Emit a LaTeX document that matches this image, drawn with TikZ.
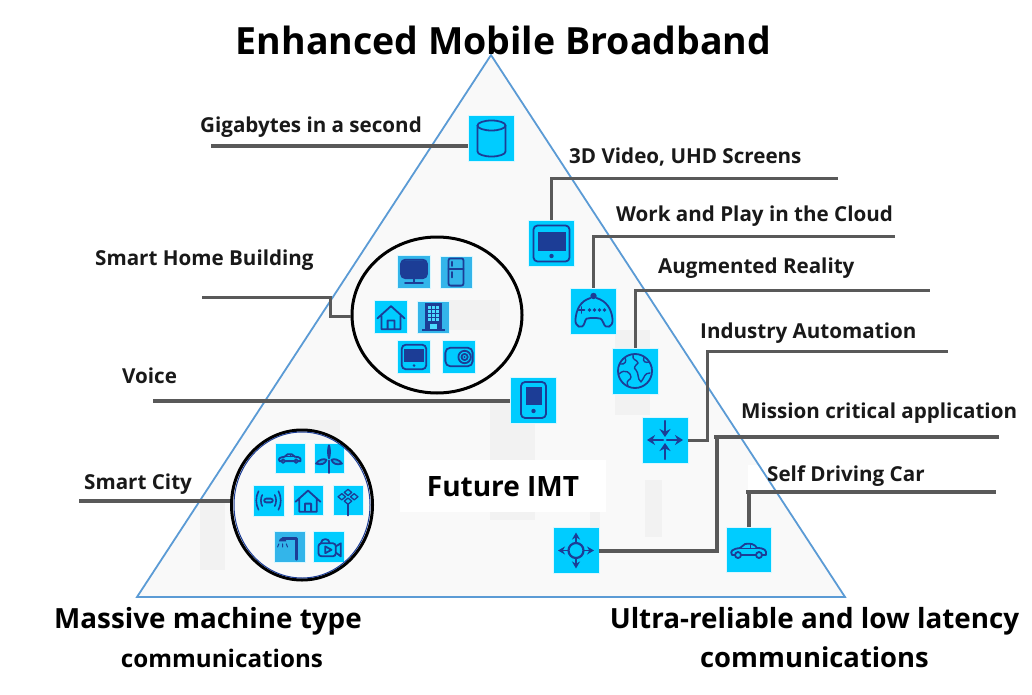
\documentclass[tikz,border=0pt]{standalone}
\usepackage{fontspec}
\usetikzlibrary{arrows.meta,shapes.geometric}
\setmainfont{Open Sans}
\definecolor{tilec}{HTML}{00CCFF}
\definecolor{tiled}{HTML}{33B5EA}
\definecolor{icon}{HTML}{1C3D96}
\definecolor{wire}{HTML}{595959}
\definecolor{edge}{HTML}{5B9BD5}
\definecolor{tribg}{HTML}{F9F9F9}
\definecolor{block}{HTML}{F2F2F2}
\tikzset{
  tile/.style={fill=tilec,draw=white!85!tilec,line width=.6pt,inner sep=0pt,minimum width=#1,minimum height=#1},
  tiledark/.style={tile=#1,fill=tiled},
  wireline/.style={draw=wire,line width=3.8pt},
  labeltext/.style={font=\bfseries\fontsize{20.6}{24}\selectfont,anchor=base west,inner sep=0pt,text=black!90},
  heading/.style={font=\bfseries\fontsize{27.8}{32}\selectfont,inner sep=0pt,anchor=base,text=black},
  ring/.style={draw=black,line width=3pt,fill=none},
  ic/.style={draw=icon,line width=1.8pt,line join=round,line cap=round,fill=none},
  icf/.style={fill=icon,draw=none},
  arr/.style={ic,-{Stealth[length=7pt,width=8pt]},line cap=butt},
  icdb/.pic={\draw[ic] (-14,-13) -- (-14,13) arc[start angle=180,end angle=0,x radius=14,y radius=5] -- (14,-13);
    \draw[ic] (0,-13) ellipse[x radius=14,y radius=5];},
  ictablet/.pic={\draw[ic,rounded corners=4pt] (-18,-18) rectangle (18,18);
    \fill[icf] (-14,-12) rectangle (14,7); \fill[icf] (0,12.5) circle(2.2);},
  icphone/.pic={\draw[ic,rounded corners=4pt] (-12.5,-18) rectangle (12.5,18);
    \fill[icf] (-8,-13) rectangle (8,5); \fill[icf] (0,11) circle(2.2);},
  icgame/.pic={\draw[ic] (-3,-13) .. controls (-13,-10) and (-17,-2) .. (-18,8) .. controls (-19,16) and (-11,19) .. (-9,12) .. controls (-8,7) and (-6,7) .. (-3,7) -- (3,7) .. controls (6,7) and (8,7) .. (10,12) .. controls (12,19) and (20,16) .. (19,8) .. controls (18,-2) and (13,-10) .. (3,-13);
    \fill[icf] (0,-15) circle(3.2);
    \draw[ic] (-15,-1) -- (-9,-1) (-12,-4) -- (-12,2);
    \foreach \q in {-5,0,5,10}{\fill[icf] (\q+1,-1) circle(1.8);}},
  icglobe/.pic={\draw[ic] (0,0) circle(17);
    \draw[ic,line width=1.4pt] (-15,-7) .. controls (-10,-6) and (-8,-10) .. (-10,-13) (-16,3) .. controls (-10,-3) and (-4,2) .. (-4,6) .. controls (-4,10) and (-10,8) .. (-7,15)
      (-2,-16) .. controls (-3,-10) and (2,-12) .. (3,-8) .. controls (0,-5) and (-2,-3) .. (1,-1) .. controls (4,2) and (2,8) .. (6,11) .. controls (10,6) and (9,2) .. (15,2)
      (9,-14) .. controls (7,-9) and (11,-8) .. (14,-9);},
  icin/.pic={\draw[ic,line width=2.2pt,-{Stealth[length=8pt,width=10pt]}] (-2,0) -- (-18,0); \draw[ic,line width=2.2pt,-{Stealth[length=8pt,width=10pt]}] (2,0) -- (18,0);
    \draw[ic,line width=2.2pt,-{Stealth[length=8pt,width=11pt]}] (0,-19) -- (0,-3);
    \draw[ic,line width=2.2pt,-{Stealth[length=8pt,width=11pt]}] (0,19) -- (0,3);},
  ichub/.pic={\draw[ic,line width=2.2pt] (0,0) circle(7.5);
    \draw[arr] (7.5,0) -- (18,0); \draw[arr] (-7.5,0) -- (-18,0);
    \draw[arr] (0,7.5) -- (0,18); \draw[arr] (0,-7.5) -- (0,-18);},
  iccar/.pic={\draw[ic] (-17,5) .. controls (-19,1) and (-17,-1) .. (-9,-2) -- (-4,-6) .. controls (1,-7) and (6,-6) .. (8,-2) .. controls (15,-2) and (18,0) .. (17,5) -- (-17,5);
    \draw[ic,fill=tilec] (-11,5) circle(3) (10,5) circle(3);
    \draw[ic,line width=.9pt] (-9,-2) -- (8,-2) (1,-6) -- (1,-2);},
  ictv/.pic={\fill[icf,rounded corners=3pt] (-18,-17) rectangle (18,8);
    \draw[ic,rounded corners=4pt] (-19,-18) rectangle (19,9);
    \draw[ic,line width=2pt] (0,9) -- (0,15) (-13,16) -- (13,16);},
  icfridge/.pic={\draw[ic,rounded corners=2pt] (-11,-20) rectangle (11,20); \draw[ic] (-11,-5) -- (11,-5) (-6,-15) -- (-6,-9) (-6,0) -- (-6,8);},
  ichome/.pic={\draw[ic] (-20,2) -- (0,-16) -- (20,2) (-14,-2) -- (-14,18) -- (14,18) -- (14,-2) (-5,18) -- (-5,5) -- (5,5) -- (5,18);},
  icbuilding/.pic={\fill[icf] (-12,-20) rectangle (12,18); \fill[icf] (-17,17) rectangle (17,21);
    \foreach \a in {-8,-2,4}{\foreach \b in {-16,-10,-4,2}{\fill[white!30!tilec] (\a,\b) rectangle (\a+4,\b+4);}}
    \fill[white!30!tilec] (-5,11) rectangle (5,18);},
  icsafe/.pic={\draw[ic,rounded corners=5pt] (-22,-15) rectangle (22,15);
    \draw[ic] (9,0) circle(10) (9,0) circle(5); \fill[icf] (9,0) circle(1.8);},
  icwave/.pic={\draw[ic,rounded corners=2pt] (-7,-3) rectangle (7,3);
    \draw[ic,line width=1.6pt] (-10,-9) .. controls (-13,-4) and (-13,4) .. (-10,9) (10,-9) .. controls (13,-4) and (13,4) .. (10,9)
      (-16,-15) .. controls (-21,-6) and (-21,6) .. (-16,15) (16,-15) .. controls (21,-6) and (21,6) .. (16,15);},
  icflower/.pic={\foreach \p/\r in {0/-13,-10/-6,10/-6,0/1}{\draw[ic,line width=1.3pt] (\p-6,\r) -- (\p,\r-5) -- (\p+6,\r) -- (\p,\r+5) -- cycle;}
    \draw[ic] (0,6) -- (0,24);},
  icturbine/.pic={\fill[icf] (0,-10) ellipse[x radius=3,y radius=12];
    \draw[ic] (0,4) -- (0,24);
    \draw[ic,fill=icon!25!tilec] (-4,3) .. controls (-8,0) and (-17,3) .. (-21,9) .. controls (-12,12) and (-6,9) .. (-4,3);
    \draw[ic,fill=icon!25!tilec] (4,3) .. controls (8,0) and (17,3) .. (21,9) .. controls (12,12) and (6,9) .. (4,3);},
  iclamp/.pic={\draw[ic,line width=2.6pt] (-12,-14) -- (10,-14) -- (10,20);
    \fill[icf] (-18,-9) arc[start angle=180,end angle=360,radius=6] -- cycle;
    \draw[ic,line width=1pt] (-18,-5) -- (-20,0) (-12,-5) -- (-12,0) (-6,-5) -- (-4,0);},
  iccam/.pic={\draw[ic,rounded corners=3pt] (-17,-6) rectangle (11,15); \draw[ic] (-13,-6) .. controls (-13,-15) and (1,-15) .. (1,-6); 
    \draw[ic] (-6,-1) -- (-6,10) -- (4,4.5) -- cycle;
    \draw[ic] (11,-1) -- (19,-6) -- (19,15) -- (11,9);},
}
\begin{document}
\begin{tikzpicture}[x=1pt,y=-1pt]
\useasboundingbox (0,0) rectangle (1032,695);
\fill[white] (0,0) rectangle (1032,695);
% triangle
\fill[tribg] (491,55) -- (137,597) -- (845,597) -- cycle;
\foreach \a/\b/\c/\d in {200/500/225/570,490/400/535/520,615/330/650/415,590/500/600/560,645/480/662/537,300/420/340/440,420/300/500/330}{
  \fill[block] (\a,\b) rectangle (\c,\d);}
\fill[white] (400,460) rectangle (606,512);
\fill[white] (748,465) rectangle (782,490);
\draw[edge,line width=1.8pt] (491,55) -- (137,597) -- (845,597) -- cycle;
% tiles
\node[tile=46] (db) at (491.5,138.5) {};
\node[tile=46] (t3d) at (551.5,243.5) {};
\node[tile=46] (game) at (593.5,311) {};
\node[tile=46] (globe) at (635,371) {};
\node[tile=46] (arrin) at (665,440) {};
\node[tile=46] (phone) at (533.5,400) {};
\node[tile=46] (hub) at (576,550.5) {};
\node[tile=45] (car) at (749,550) {};
\node[tiledark=33] (tv) at (414,272) {};
\node[tiledark=32] (fridge) at (456,272) {};
\node[tile=33] (homea) at (391,317) {};
\node[tiledark=32] (bldg) at (433.5,317) {};
\node[tile=33] (tabb) at (414,357) {};
\node[tile=33] (safe) at (459,357) {};
\node[tile=30] (carb) at (290,458) {};
\node[tile=30] (turb) at (329,458) {};
\node[tile=31] (wave) at (268.5,500.5) {};
\node[tile=30] (homeb) at (308,500.5) {};
\node[tile=30] (flow) at (348,500.5) {};
\node[tiledark=31] (lamp) at (290,547) {};
\node[tile=31] (cam) at (329,547) {};
% icons
\pic at (db) {icdb};
\pic at (t3d) {ictablet};
\pic at (game) {icgame};
\pic at (globe) {icglobe};
\pic at (arrin) {icin};
\pic at (phone) {icphone};
\pic at (hub) {ichub};
\pic at (car) {iccar};
\pic[scale=.68] at (tv) {ictv};
\pic[scale=.68] at (fridge) {icfridge};
\pic[scale=.68] at (homea) {ichome};
\pic[scale=.68] at (bldg) {icbuilding};
\pic[scale=.68] at (tabb) {ictablet};
\pic[scale=.62] at (safe) {icsafe};
\pic[scale=.62] at (carb) {iccar};
\pic[scale=.62] at (turb) {icturbine};
\pic[scale=.62] at (wave) {icwave};
\pic[scale=.62] at (homeb) {ichome};
\pic[scale=.62] at (flow) {icflower};
\pic[scale=.62] at (lamp) {iclamp};
\pic[scale=.62] at (cam) {iccam};
% rings
\node[ring,ellipse,inner sep=0pt,minimum width=170pt,minimum height=156pt] (ringhome) at (437,315) {};
\node[ring,ellipse,inner sep=0pt,minimum width=141pt,minimum height=150pt] (ringcity) at (302,505) {};
\draw[icon,line width=1pt] (302,505) ellipse[x radius=68,y radius=73];
% free ends
\coordinate (egiga) at (211,146);
\coordinate (e3d) at (838,178);
\coordinate (ework) at (895,236);
\coordinate (ear) at (930,290);
\coordinate (eind) at (948,351);
\coordinate (bind) at (707,439);
\coordinate (emis) at (999,437);
\coordinate (bmis) at (714,437);
\coordinate (kmis) at (717,551);
\coordinate (eself) at (996,492);
\coordinate (bself) at (746,492);
\coordinate (ehome) at (202,297);
\coordinate (khome) at (330,316);
\coordinate (evoice) at (153,401);
\coordinate (ecity) at (79,501);
% connectors
\draw[wireline] (egiga) -- (db.west |- egiga);
\draw[wireline,line width=3pt] (t3d.north) |- (e3d);
\draw[wireline,line width=3pt] (game.north) |- (ework);
\draw[wireline,line width=3pt] (globe.north) |- (ear);
\draw[wireline,line width=3pt] (arrin.east) -| (bind) |- (eind);
\draw[wireline] (hub.east |- kmis) -- (kmis) -- (kmis |- emis);
\draw[wireline] (bmis) -- (emis);
\draw[wireline] (car.north) -- (car.north |- eself);
\draw[wireline] (bself) -- (eself);
\draw[wireline,line width=3pt] (ehome) -| (khome) -- (ringhome.west |- khome);
\draw[wireline] (evoice) -- (phone.west |- evoice);
\draw[wireline] (ecity) -- (ringcity.west |- ecity);
% labels
\node[labeltext] (lgiga) at (200,133) {Gigabytes in a second};
\node[labeltext] (l3d) at (569,164) {3D Video, UHD Screens};
\node[labeltext] (lwork) at (616,221) {Work and Play in the Cloud};
\node[labeltext] (lar) at (658,273) {Augmented Reality};
\node[labeltext] (lind) at (700,338) {Industry Automation};
\node[labeltext] (lmis) at (741,418) {Mission critical application};
\node[labeltext] (lself) at (767,481) {Self Driving Car};
\node[labeltext] (lhome) at (95,265) {Smart Home Building};
\node[labeltext] (lvoice) at (122,383) {Voice};
\node[labeltext] (lcity) at (84,489) {Smart City};
\node[heading,font=\bfseries\fontsize{37.5}{42}\selectfont] (title) at (503.5,55) {Enhanced Mobile Broadband};
\node[heading] (mm1) at (208,628) {Massive machine type};
\node[heading,font=\bfseries\fontsize{24.2}{28}\selectfont] (mm2) at (222,667) {communications};
\node[heading] (ur1) at (814.5,628) {Ultra-reliable and low latency};
\node[heading,font=\bfseries\fontsize{27.4}{32}\selectfont] (ur2) at (814.5,667) {communications};
\node[heading,font=\bfseries\fontsize{28}{32}\selectfont] (imt) at (503,496) {Future IMT};
\end{tikzpicture}
\end{document}
